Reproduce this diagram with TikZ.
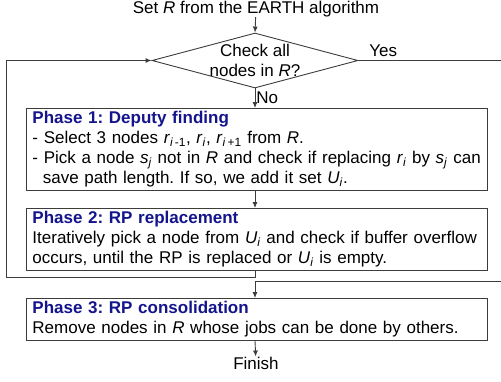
\documentclass[tikz,border=0pt]{standalone}
\usepackage{fontspec}
\setmainfont{Liberation Sans}
\usetikzlibrary{arrows.meta,shapes.geometric}
\definecolor{headblue}{RGB}{20,20,140}
\definecolor{linegray}{RGB}{60,60,60}
\frenchspacing
\begin{document}
\begin{tikzpicture}[x=1pt,y=-1pt,
  txt/.style={font=\fontsize{17}{20}\selectfont, inner sep=0pt},
  phasebox/.style={draw=linegray, line width=0.9pt, anchor=north west,
    text width=449pt, align=left, inner xsep=6pt, inner ysep=3pt,
    font=\fontsize{17}{20}\selectfont},
  conn/.style={draw=linegray, line width=0.9pt},
  arr/.style={conn, -{Latex[length=6pt,width=5pt]}}
]
\useasboundingbox (0,0) rectangle (501,381);
\newcommand{\hd}[1]{\textcolor{headblue}{\textbf{#1}}}
\newcommand{\ivar}[2]{\textit{#1}\textsubscript{#2}}

\node[txt] (start) at (256,9) {Set \textit{R} from the EARTH algorithm};
\node[diamond, draw=linegray, line width=0.9pt, minimum width=206pt,
  minimum height=55pt, inner sep=0pt] (dec) at (255,60.5) {};
\node[txt, align=center] (dectext) at (dec.center) {Check all\\nodes in \textit{R}?};

\node[phasebox] (p1) at (26,108) {\hd{Phase 1: Deputy finding}\\
- Select 3 nodes \ivar{r}{\textit{i}\,-1}, \ivar{r}{\textit{i}}, \ivar{r}{\textit{i}\,+1} from \textit{R}.\\
- Pick a node \ivar{s}{\textit{j}} not in \textit{R} and check if replacing \ivar{r}{\textit{i}} by \ivar{s}{\textit{j}} can\\
\hspace*{10.4pt}save path length. If so, we add it set \ivar{U}{\textit{i}}.};

\node[phasebox] (p2) at (26,208) {\hd{Phase 2: RP replacement}\\
Iteratively pick a node from \ivar{U}{\textit{i}} and check if buffer overflow\\
occurs, until the RP is replaced or \ivar{U}{\textit{i}} is empty.};

\node[phasebox] (p3) at (26,298) {\hd{Phase 3: RP consolidation}\\
Remove nodes in \textit{R} whose jobs can be done by others.};

\node[txt] (finish) at (256,363) {Finish};

\coordinate (lb) at (6,277);
\coordinate (rb) at (504,281);

\draw[arr] (start) -- (dec.north);
\draw[arr] (dec.south) -- node[txt, right, xshift=1pt] (nolab) {No} (dec.south |- p1.north);
\draw[arr] (p1.south -| dec.south) -- (dec.south |- p2.north);
\draw[arr] (p2.south -| dec.south) |- (lb) |- (dec.west);
\draw[conn] (dec.east) -- node[txt, above, pos=0.17, yshift=3pt] (yeslab) {Yes} (rb |- dec.east) -- (rb);
\draw[arr] (rb) -| (dec.south |- p3.north);
\draw[arr] (p3.south -| dec.south) -- (finish);
\end{tikzpicture}
\end{document}
